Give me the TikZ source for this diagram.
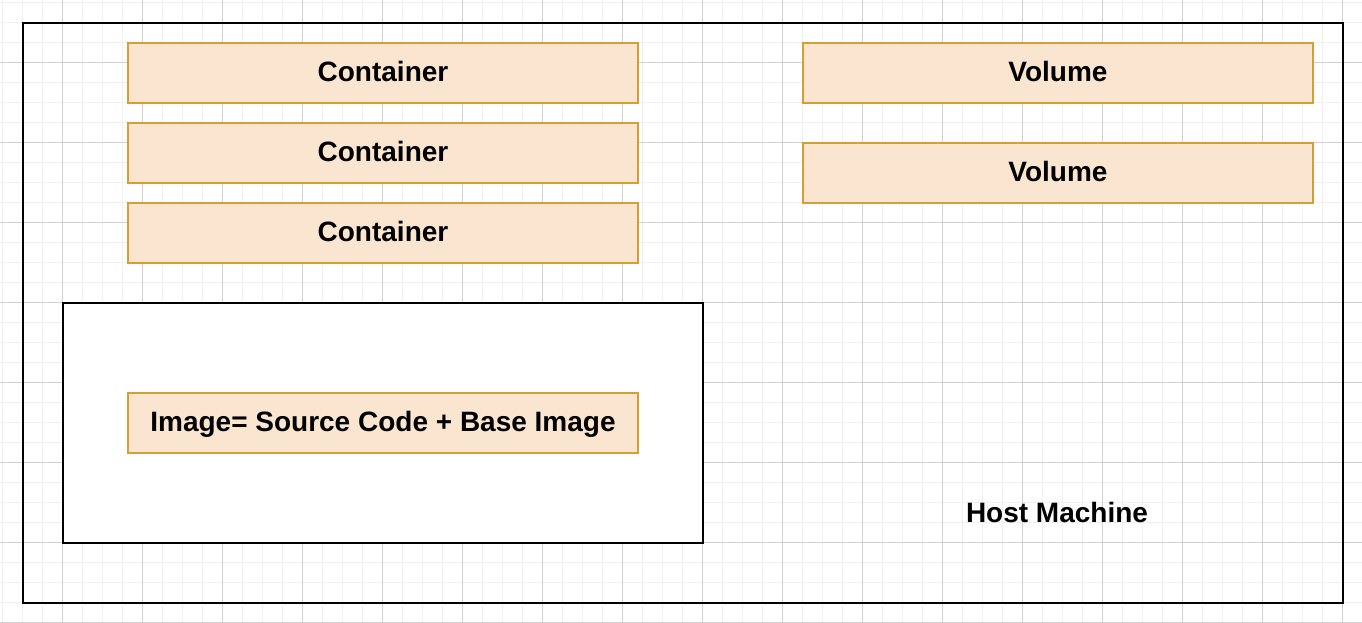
\documentclass[tikz,border=0pt]{standalone}
\usepackage{fontspec}
\setmainfont{Liberation Sans}
\usetikzlibrary{
  positioning}
\definecolor{boxcolor}{RGB}{250,230,208}
\definecolor{boxdrawcolor}{RGB}{214,158,52}
\definecolor{minorgridcolor}{RGB}{240,240,240}
\definecolor{majorgridcolor}{RGB}{210,210,210}
\tikzset{
  %% container : an orange box (containers, volumes, image)
  container/.style={
    rectangle,
    fill=boxcolor,
    draw=boxdrawcolor,
    line width=2pt,
    outer sep=0pt,
    minimum width=510pt,
    minimum height=60pt,
    text height=24pt,
    text depth=7pt,
    font=\fontsize{28}{34}\selectfont\bfseries,
    align=center
  },
  %% frame : plain black frame (host machine, image area)
  frame/.style={
    rectangle,
    draw=black,
    line width=2pt,
    outer sep=0pt
  },
  %% label : free text
  label/.style={
    font=\fontsize{28}{34}\selectfont\bfseries,
    align=center
  },
  %% grid lines of the background
  minorgrid/.style={minorgridcolor, line width=1pt},
  majorgrid/.style={majorgridcolor, line width=1pt}
}

\begin{document}
\begin{tikzpicture}
  [x=1pt,
  y=-1pt]

  \useasboundingbox (0,0) rectangle (1362,622);
  \fill[white] (0,0) rectangle (1362,622);

  %% Grid in the background
  \draw[minorgrid, shift={(2,2)}] (-2,-2) grid[step=20pt] (1360,620);
  \draw[majorgrid, shift={(62,62)}] (-62,-62) grid[step=80pt] (1300,560);

  %% Host machine
  \node (host) [frame, minimum width=1320pt, minimum height=580pt] at (683,313) {};

  %% Containers
  \node (container1) [container] at (383,73) {%
    Container%
  };

  \node (container2) [below=20pt of container1, container] {%
    Container%
  };

  \node (container3) [below=20pt of container2, container] {%
    Container%
  };

  %% Volumes
  \node (volume1) [container] at (1058,73) {%
    Volume%
  };

  \node (volume2) [below=40pt of volume1, container] {%
    Volume%
  };

  %% Image
  \node (imageframe) [frame, fill=white, minimum width=640pt, minimum height=240pt] at (383,423) {};

  \node (image) [container] at (imageframe) {%
    Image= Source Code + Base Image%
  };

  \node (hostlabel) [label] at (1057,512) {%
    Host Machine%
  };

\end{tikzpicture}
\end{document}
